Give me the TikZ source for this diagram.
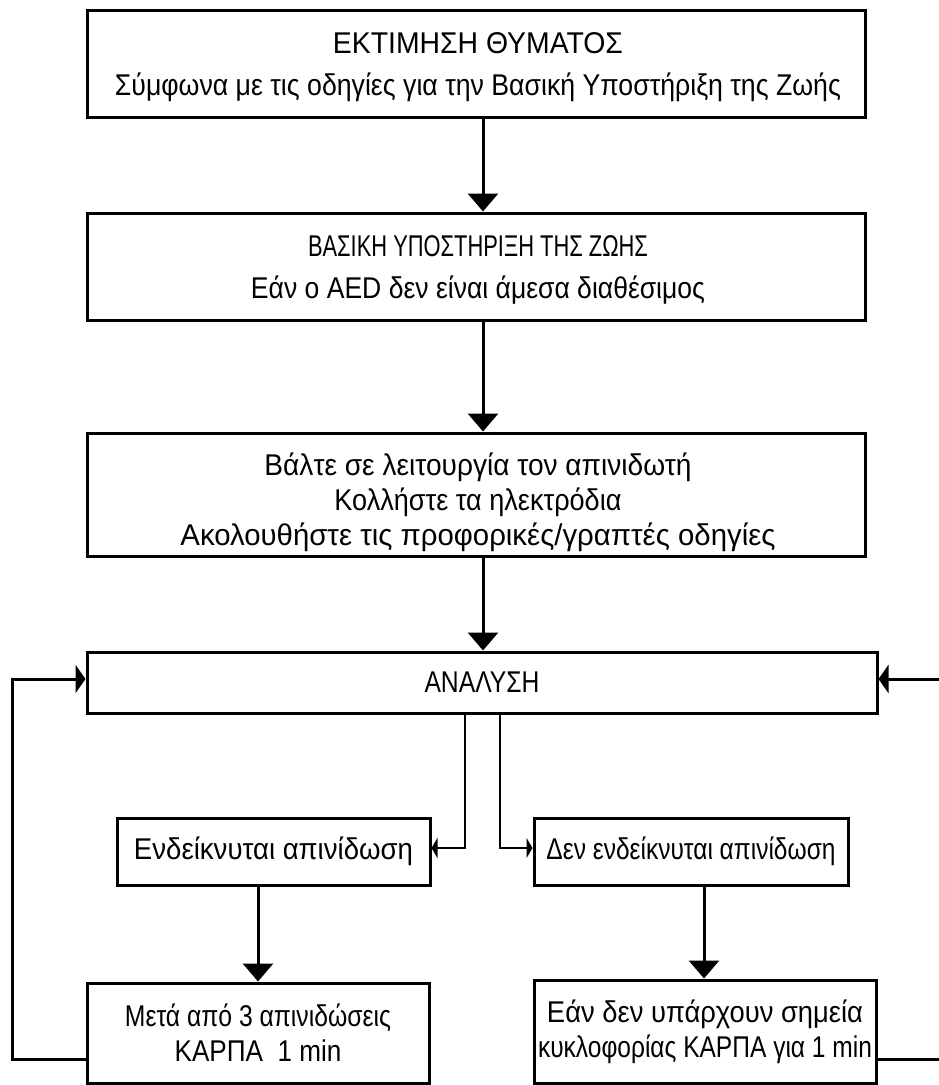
\documentclass[tikz,border=0pt]{standalone}
\usepackage{fontspec}
\usepackage{graphicx}
\setmainfont{Liberation Sans}[FakeStretch=0.87]
\usetikzlibrary{arrows.meta}
\newcommand\fw[2]{\resizebox{#1}{\height}{#2}}
\begin{document}
\begin{tikzpicture}[x=1pt,y=-1pt,
 box/.style={draw, line width=3pt, inner sep=0pt, align=center, font=\fontsize{30}{42}\selectfont},
 txt/.style={inner sep=0pt, align=center, font=\fontsize{30}{42}\selectfont},
 big/.style={line width=3pt, -{Triangle[length=18pt,width=30pt]}},
 side/.style={line width=3pt, -{Triangle[length=10pt,width=28pt]}},
 small/.style={line width=2.5pt, -{Triangle[length=6pt,width=20pt]}},
]
\useasboundingbox (0,0) rectangle (939,1085);
\node[box, minimum width=778pt, minimum height=107pt] (b1) at (476,63.5) {};
\node[txt] (b1t) at (478,67)
  {\fw{290pt}{ΕΚΤΙΜΗΣΗ ΘΥΜΑΤΟΣ}\\\fw{726pt}{Σύμφωνα με τις οδηγίες για την Βασική Υποστήριξη της Ζωής}};
\node[box, minimum width=778pt, minimum height=107pt] (b2) at (476,266.5) {};
\node[txt] (b2t) at (478,270)
  {\fw{340pt}{ΒΑΣΙΚΗ ΥΠΟΣΤΗΡΙΞΗ ΤΗΣ ΖΩΗΣ}\\\fw{454pt}{Εάν ο AED δεν είναι άμεσα διαθέσιμος}};
\node[box, minimum width=778pt, minimum height=123pt] (b3) at (476,494.5) {};
\node[txt, font=\fontsize{30}{35}\selectfont] (b3t) at (478,502)
  {\fw{427pt}{Βάλτε σε λειτουργία τον απινιδωτή}\\\fw{287pt}{Κολλήστε τα ηλεκτρόδια}\\\fw{595pt}{Ακολουθήστε τις προφορικές/γραπτές οδηγίες}};
\node[box, minimum width=790pt, minimum height=61pt] (b4) at (482,682.5) {\fw{115pt}{ΑΝΑΛΥΣΗ}};
\node[box, minimum width=313pt, minimum height=67pt] (b5) at (273.5,851.5) {\fw{279pt}{Ενδείκνυται απινίδωση}};
\node[box, minimum width=314pt, minimum height=67pt] (b6) at (691,851.5) {\fw{289pt}{Δεν ενδείκνυται απινίδωση}};
\node[box, font=\fontsize{30}{35}\selectfont, minimum width=342pt, minimum height=100pt] (b7) at (258,1033)
  {\fw{266pt}{Μετά από 3 απινιδώσεις}\\ΚΑΡΠΑ\ \ 1 min};
\node[box, font=\fontsize{30}{35}\selectfont, minimum width=342pt, minimum height=103pt] (b8) at (705,1031.5)
  {\fw{316pt}{Εάν δεν υπάρχουν σημεία}\\\fw{334pt}{κυκλοφορίας ΚΑΡΠΑ για 1 min}};

\coordinate (ax) at (483,0);
\draw[big] (b1.south -| ax) -- (b2.north -| ax);
\draw[big] (b2.south -| ax) -- (b3.north -| ax);
\draw[big] (b3.south -| ax) -- (b4.north -| ax);

\coordinate (lx) at (12,0);
\coordinate (rx) at (943,0);
\coordinate (ly) at (0,1059);
\coordinate (ay) at (0,679);
\draw[side] (b7.west |- ly) -- (lx |- ly) -- (lx |- ay) -- (b4.west |- ay);
\draw[side] (b8.east |- ly) -- (rx |- ly) -- (rx |- ay) -- (b4.east |- ay);

\coordinate (mlx) at (465,0);
\coordinate (mrx) at (500,0);
\coordinate (my) at (0,848);
\draw[small] (b4.south -| mlx) -- (mlx |- my) -- (b5.east |- my);
\draw[small] (b4.south -| mrx) -- (mrx |- my) -- (b6.west |- my);

\coordinate (blx) at (258,0);
\coordinate (brx) at (704,0);
\draw[big] (b5.south -| blx) -- (b7.north -| blx);
\draw[big] (b6.south -| brx) -- (b8.north -| brx);
\end{tikzpicture}
\end{document}
